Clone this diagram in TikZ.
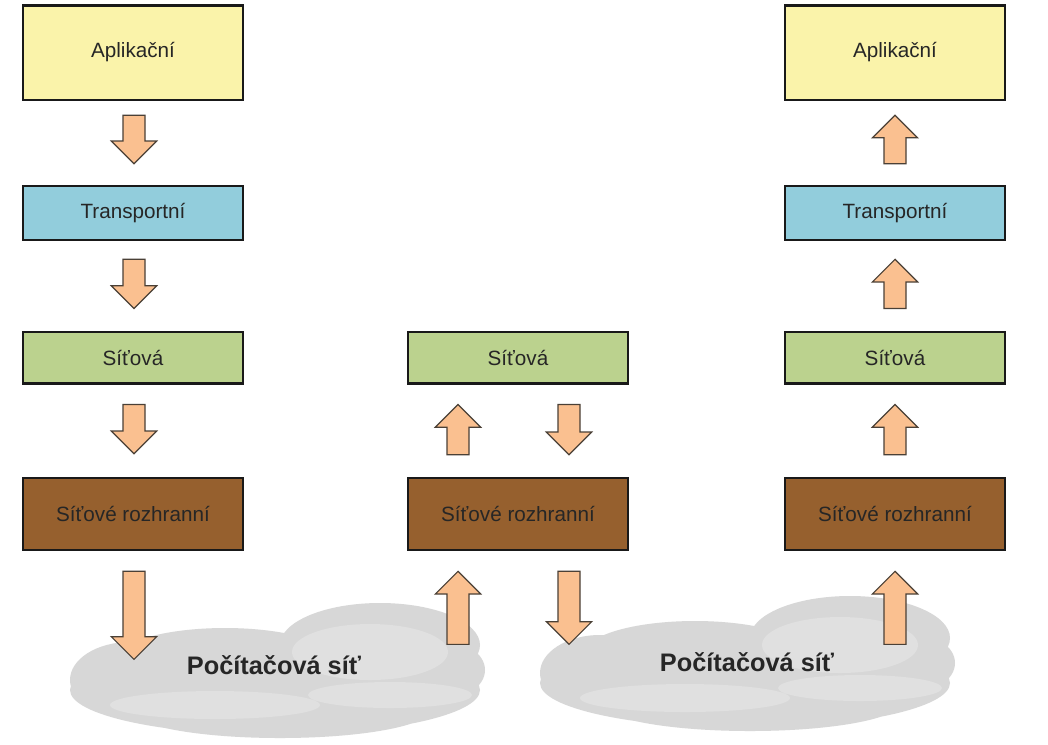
\documentclass[tikz,border=0pt]{standalone}
\usepackage{fontspec}
\setmainfont{Liberation Sans}
\usetikzlibrary{calc}

\definecolor{appfill}{HTML}{FAF3AA}
\definecolor{trfill}{HTML}{92CDDC}
\definecolor{netfill}{HTML}{BBD28E}
\definecolor{iffill}{HTML}{96602E}
\definecolor{arrfill}{HTML}{FAC090}
\definecolor{arrline}{HTML}{4A4036}
\definecolor{cloudgray}{HTML}{D7D7D7}
\definecolor{cloudlight}{HTML}{E0E0E0}

% block arrows between layers: #1 = base point, #2 = tip point
\newcommand{\flowdown}[2]{%
  \draw[flow] let \p1=#1, \p2=#2 in
    (\x1-8.25pt,\y1) -- (\x1+8.25pt,\y1) -- (\x1+8.25pt,\y2+17pt) -- (\x1+17pt,\y2+17pt)
    -- (\x1,\y2) -- (\x1-17pt,\y2+17pt) -- (\x1-8.25pt,\y2+17pt) -- cycle;}
\newcommand{\flowup}[2]{%
  \draw[flow] let \p1=#1, \p2=#2 in
    (\x1-8.25pt,\y1) -- (\x1+8.25pt,\y1) -- (\x1+8.25pt,\y2-17pt) -- (\x1+17pt,\y2-17pt)
    -- (\x1,\y2) -- (\x1-17pt,\y2-17pt) -- (\x1-8.25pt,\y2-17pt) -- cycle;}

\tikzset{
  layer/.style={draw=black!90, line width=2pt, minimum width=165pt, inner sep=0pt,
    font=\fontsize{15.5}{18}\selectfont, text=black!85},
  app/.style={layer, fill=appfill, minimum height=71pt},
  trans/.style={layer, fill=trfill, minimum height=40.5pt},
  net/.style={layer, fill=netfill, minimum height=38.5pt},
  iface/.style={layer, fill=iffill, minimum height=54pt},
  flow/.style={fill=arrfill, draw=arrline, line width=0.9pt, line join=miter},
  cloudtext/.style={font=\bfseries\fontsize{19}{22}\selectfont, text=black!85},
  netcloud/.pic={
    % body of the cloud
    \fill[cloudgray] (0,20) ellipse (205 and 45) (-50,-10) ellipse (110 and 32)
      (105,-25) ellipse (100 and 42) (-145,10) ellipse (60 and 38)
      (165,0) ellipse (45 and 30) (5,40) ellipse (150 and 28);
    % lighter puffs
    \fill[cloudlight] (95,-18) ellipse (78 and 28) (115,25) ellipse (82 and 13)
      (-60,35) ellipse (105 and 14);
  }
}

\begin{document}
\begin{tikzpicture}[x=0.75pt, y=-0.75pt]

    \useasboundingbox[fill=white] (0,0) rectangle (1048,744);

    % clouds at the bottom
    \pic at (275,670) {netcloud};
    \pic at (745,663) {netcloud};
    \node[cloudtext] (netL) at (274,665) {Počítačová síť};
    \node[cloudtext] (netR) at (747,662) {Počítačová síť};

    % sending host
    \node[app]   (apL) at (133,52.5) {Aplikační};
    \node[trans] (trL) at (133,213)  {Transportní};
    \node[net]   (nwL) at (133,357.5) {Síťová};
    \node[iface] (ifL) at (133,514)  {Síťové rozhranní};

    % router
    \node[net]   (nwM) at (518,357.5) {Síťová};
    \node[iface] (ifM) at (518,514)  {Síťové rozhranní};

    % receiving host
    \node[app]   (apR) at (895,52.5) {Aplikační};
    \node[trans] (trR) at (895,213)  {Transportní};
    \node[net]   (nwR) at (895,357.5) {Síťová};
    \node[iface] (ifR) at (895,514)  {Síťové rozhranní};

    % down the left stack
    \flowdown{($(apL.south)+(1,14)$)}{($(trL.north)+(1,-21)$)}
    \flowdown{($(trL.south)+(1,18)$)}{($(nwL.north)+(1,-22)$)}
    \flowdown{($(nwL.south)+(1,20)$)}{($(ifL.north)+(1,-23)$)}
    \flowdown{($(ifL.south)+(1,20)$)}{($(ifL.south)+(1,108)$)}

    % through the router
    \flowup{($(ifM.south)+(-60,93)$)}{($(ifM.south)+(-60,20)$)}
    \flowdown{($(ifM.south)+(51,20)$)}{($(ifM.south)+(51,93)$)}
    \flowup{($(ifM.north)+(-60,-22)$)}{($(nwM.south)+(-60,20)$)}
    \flowdown{($(nwM.south)+(51,20)$)}{($(ifM.north)+(51,-22)$)}

    % up the right stack
    \flowup{($(ifR.south)+(0,93)$)}{($(ifR.south)+(0,20)$)}
    \flowup{($(ifR.north)+(0,-22)$)}{($(nwR.south)+(0,20)$)}
    \flowup{($(nwR.north)+(0,-22)$)}{($(trR.south)+(0,18)$)}
    \flowup{($(trR.north)+(0,-21)$)}{($(apR.south)+(0,14)$)}

\end{tikzpicture}
\end{document}
